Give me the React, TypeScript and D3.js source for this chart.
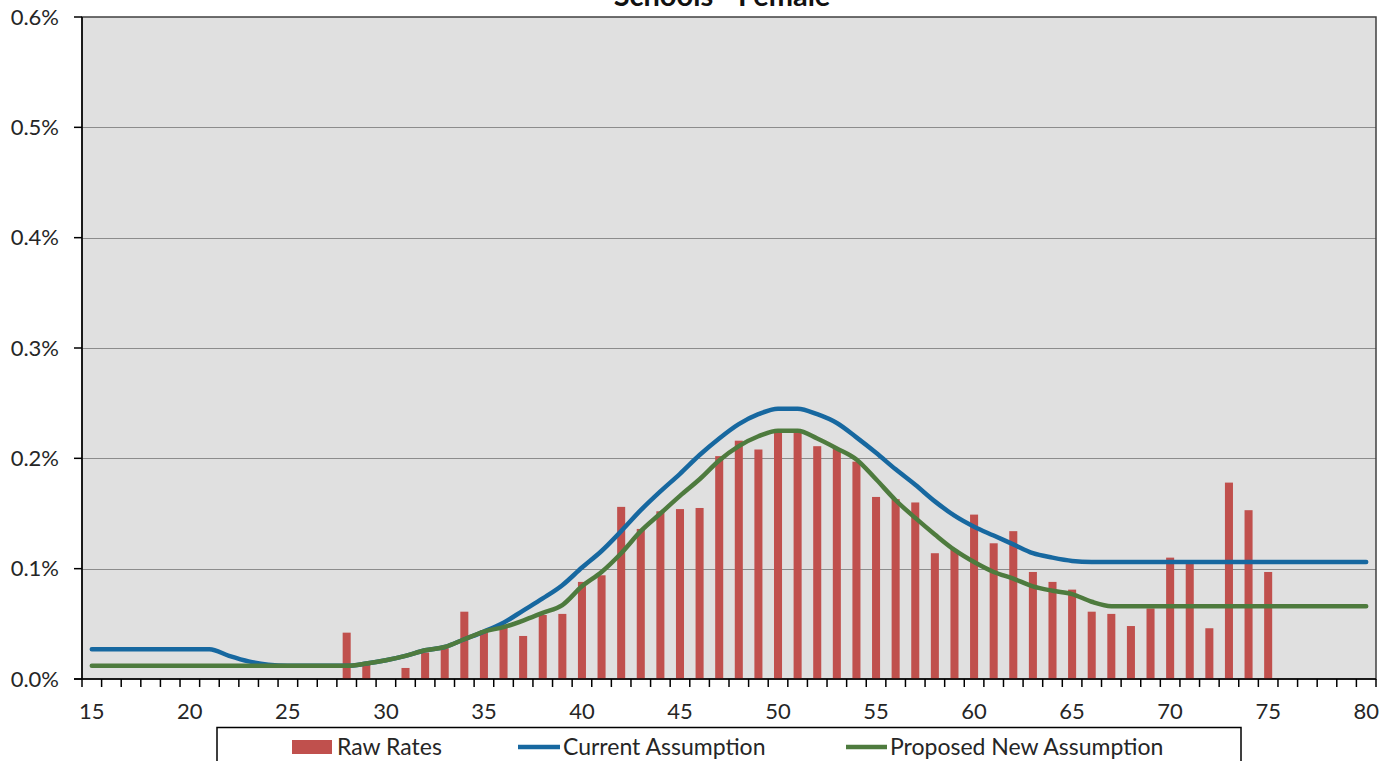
import React, { useEffect, useRef } from "react";
import * as d3 from "d3";

const ages: number[] = [
  15, 16, 17, 18, 19, 20, 21, 22, 23, 24, 25, 26, 27, 28, 29, 30, 31, 32, 33, 34, 35, 36,
  37, 38, 39, 40, 41, 42, 43, 44, 45, 46, 47, 48, 49, 50, 51, 52, 53, 54, 55, 56, 57, 58,
  59, 60, 61, 62, 63, 64, 65, 66, 67, 68, 69, 70, 71, 72, 73, 74, 75, 76, 77, 78, 79, 80,
];

// values in percent
const rawRates: (number | null)[] = [
  null, null, null, null, null, null, null, null, null, null, null, null, null, // 15-27
  0.042, 0.013, null, 0.010, 0.024, 0.028, 0.061, 0.044, 0.049, 0.039, 0.058, 0.059, // 28-39
  0.088, 0.094, 0.156, 0.136, 0.152, 0.154, 0.155, 0.202, 0.216, 0.208, // 40-49
  0.224, 0.224, 0.211, 0.209, 0.197, 0.165, 0.163, 0.160, 0.114, 0.117, // 50-59
  0.149, 0.123, 0.134, 0.097, 0.088, 0.081, 0.061, 0.059, 0.048, 0.064, // 60-69
  0.110, 0.105, 0.046, 0.178, 0.153, 0.097, // 70-75
  null, null, null, null, null, // 76-80
];

const currentAssumption: number[] = [
  0.027, 0.027, 0.027, 0.027, 0.027, 0.027, 0.027, 0.021, 0.016, 0.013, // 15-24
  0.012, 0.012, 0.012, 0.012, 0.014, 0.017, 0.021, 0.026, 0.029, 0.036, // 25-34
  0.043, 0.051, 0.062, 0.073, 0.085, 0.101, 0.116, 0.134, 0.153, 0.170, // 35-44
  0.186, 0.203, 0.218, 0.231, 0.240, 0.245, 0.245, 0.240, 0.232, 0.219, // 45-54
  0.205, 0.190, 0.176, 0.161, 0.148, 0.138, 0.130, 0.122, 0.114, 0.110, // 55-64
  0.107, 0.106, 0.106, 0.106, 0.106, 0.106, 0.106, 0.106, 0.106, 0.106, // 65-74
  0.106, 0.106, 0.106, 0.106, 0.106, 0.106, // 75-80
];

const proposedAssumption: number[] = [
  0.012, 0.012, 0.012, 0.012, 0.012, 0.012, 0.012, 0.012, 0.012, 0.012, // 15-24
  0.012, 0.012, 0.012, 0.012, 0.014, 0.017, 0.021, 0.026, 0.029, 0.036, // 25-34
  0.043, 0.047, 0.053, 0.060, 0.067, 0.084, 0.097, 0.114, 0.134, 0.150, // 35-44
  0.166, 0.181, 0.198, 0.211, 0.220, 0.225, 0.225, 0.218, 0.209, 0.199, // 45-54
  0.181, 0.162, 0.146, 0.131, 0.117, 0.106, 0.097, 0.091, 0.084, 0.080, // 55-64
  0.077, 0.070, 0.066, 0.066, 0.066, 0.066, 0.066, 0.066, 0.066, 0.066, // 65-74
  0.066, 0.066, 0.066, 0.066, 0.066, 0.066, // 75-80
];

const yTicks: number[] = [0, 0.1, 0.2, 0.3, 0.4, 0.5, 0.6];
const xLabelAges: number[] = [15, 20, 25, 30, 35, 40, 45, 50, 55, 60, 65, 70, 75, 80];

const titleText = "Schools - Female";
const legendLabels = ["Raw Rates", "Current Assumption", "Proposed New Assumption"];

const RED = "#c0504d";
const BLUE = "#1768a0";
const GREEN = "#4e7b3e";
const FONT = "Lato, 'Open Sans', sans-serif";

export default function App() {
  const ref = useRef<SVGSVGElement | null>(null);

  useEffect(() => {
    const svg = d3.select(ref.current);
    svg.selectAll("*").remove();

    const left = 82, right = 1376, top = 17, bottom = 679;

    const x = d3.scaleBand<number>().domain(ages).range([left, right]).paddingInner(0).paddingOuter(0);
    const y = d3.scaleLinear().domain([0, 0.6]).range([bottom, top]);
    const cx = (a: number) => (x(a) as number) + x.bandwidth() / 2;

    // plot area
    svg.append("rect")
      .attr("x", left).attr("y", top)
      .attr("width", right - left).attr("height", bottom - top)
      .attr("fill", "#e0e0e0");

    // gridlines
    svg.append("g").selectAll("line")
      .data(yTicks.filter((t) => t > 0 && t < 0.6))
      .join("line")
      .attr("x1", left).attr("x2", right)
      .attr("y1", (d) => Math.round(y(d)) + 0.5).attr("y2", (d) => Math.round(y(d)) + 0.5)
      .attr("stroke", "#8c8c8c").attr("stroke-width", 1.2);

    // border
    svg.append("rect")
      .attr("x", left).attr("y", top)
      .attr("width", right - left).attr("height", bottom - top)
      .attr("fill", "none").attr("stroke", "#404040").attr("stroke-width", 1.5);

    // bars
    const barW = x.bandwidth() * 0.41;
    svg.append("g").selectAll("rect")
      .data(ages.map((a, i) => ({ a, v: rawRates[i] })).filter((d) => d.v !== null))
      .join("rect")
      .attr("x", (d) => cx(d.a) - barW / 2)
      .attr("width", barW)
      .attr("y", (d) => y(d.v as number))
      .attr("height", (d) => bottom - y(d.v as number))
      .attr("fill", RED);

    const line = d3.line<number>()
      .x((_, i) => cx(ages[i]))
      .y((d) => y(d))
      .curve(d3.curveMonotoneX);

    svg.append("path").attr("d", line(currentAssumption))
      .attr("fill", "none").attr("stroke", BLUE).attr("stroke-width", 4.5)
      .attr("stroke-linecap", "round").attr("stroke-linejoin", "round");
    svg.append("path").attr("d", line(proposedAssumption))
      .attr("fill", "none").attr("stroke", GREEN).attr("stroke-width", 4.5)
      .attr("stroke-linecap", "round").attr("stroke-linejoin", "round");

    // axes lines
    svg.append("line").attr("x1", left).attr("x2", left).attr("y1", top).attr("y2", bottom)
      .attr("stroke", "#000").attr("stroke-width", 1.5);
    svg.append("line").attr("x1", left - 8).attr("x2", right).attr("y1", bottom).attr("y2", bottom)
      .attr("stroke", "#000").attr("stroke-width", 1.5);

    // y ticks
    const yg = svg.append("g");
    yg.selectAll("line").data(yTicks).join("line")
      .attr("x1", left - 8).attr("x2", left)
      .attr("y1", (d) => y(d)).attr("y2", (d) => y(d))
      .attr("stroke", "#000").attr("stroke-width", 1.5);
    yg.selectAll("text").data(yTicks).join("text")
      .attr("x", 59).attr("y", (d) => y(d))
      .attr("dy", "0.35em")
      .attr("text-anchor", "end")
      .attr("font-family", FONT).attr("font-size", 22).attr("fill", "#262626")
      .text((d) => d3.format(".1f")(d) + "%");

    // x ticks at category boundaries
    const boundaries = ages.map((a) => x(a) as number).concat([right]);
    svg.append("g").selectAll("line").data(boundaries).join("line")
      .attr("x1", (d) => d).attr("x2", (d) => d)
      .attr("y1", bottom).attr("y2", bottom + 8)
      .attr("stroke", "#000").attr("stroke-width", 1.5);
    svg.append("g").selectAll("text").data(xLabelAges).join("text")
      .attr("x", (d) => cx(d)).attr("y", 711)
      .attr("dy", "0.35em")
      .attr("text-anchor", "middle")
      .attr("font-family", FONT).attr("font-size", 22).attr("fill", "#262626")
      .text((d) => String(d));

    // title (clipped at the top as in the source)
    svg.append("text")
      .attr("x", 722).attr("y", 6)
      .attr("text-anchor", "middle")
      .attr("font-family", FONT).attr("font-weight", "bold").attr("font-size", 29)
      .attr("fill", "#111")
      .text(titleText);

    // legend
    const lg = svg.append("g");
    lg.append("rect").attr("x", 217).attr("y", 727.5).attr("width", 1024).attr("height", 60)
      .attr("fill", "#fff").attr("stroke", "#000").attr("stroke-width", 1.5);
    lg.append("rect").attr("x", 292).attr("y", 740).attr("width", 40).attr("height", 14).attr("fill", RED);
    lg.append("line").attr("x1", 518).attr("x2", 560).attr("y1", 747).attr("y2", 747)
      .attr("stroke", BLUE).attr("stroke-width", 4.5);
    lg.append("line").attr("x1", 846).attr("x2", 887).attr("y1", 747).attr("y2", 747)
      .attr("stroke", GREEN).attr("stroke-width", 4.5);
    const lx = [337, 563, 890];
    lg.selectAll("text").data(legendLabels).join("text")
      .attr("x", (_, i) => lx[i]).attr("y", 747).attr("dy", "0.35em")
      .attr("font-family", FONT).attr("font-size", 23).attr("fill", "#262626")
      .text((d) => d);
  }, []);

  return (
    <svg
      ref={ref}
      width={1395}
      height={761}
      style={{ position: "absolute", left: 0, top: 0, display: "block", background: "#fff" }}
    />
  );
}
